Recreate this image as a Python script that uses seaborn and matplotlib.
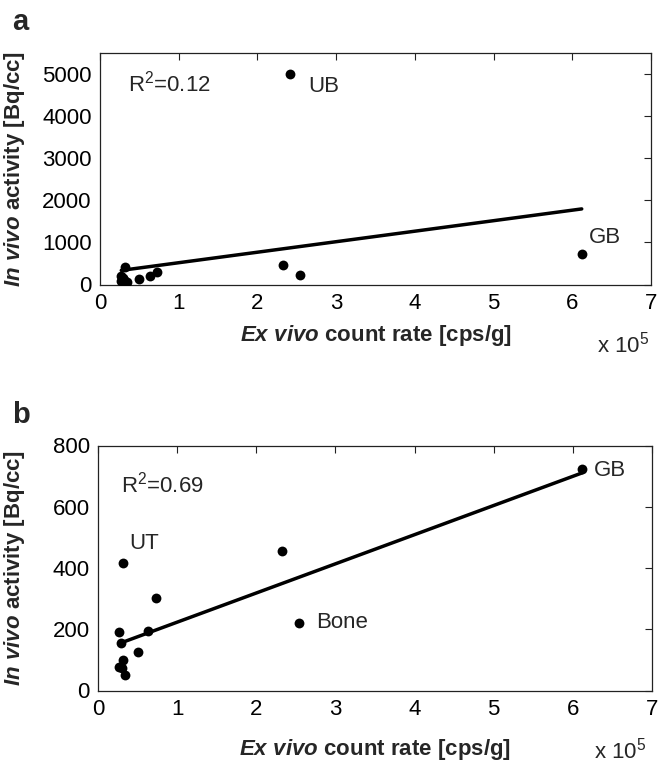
import matplotlib
matplotlib.use("Agg")
import matplotlib.pyplot as plt
import numpy as np
import pandas as pd
import seaborn as sns

# ---- data (x in units of 1e5 cps/g, y in Bq/cc) ----
ex_vivo_b = [0.32, 0.73, 0.27, 0.63, 0.29, 0.50, 0.31, 0.27, 0.30, 0.34, 2.33, 2.54, 6.12]
in_vivo_b = [415, 303, 191, 194, 155, 126, 101, 76, 72, 51, 457, 221, 724]
organs_b = ["UT", "", "", "", "", "", "", "", "", "", "", "Bone", "GB"]
ub_x = [2.42]
ub_y = [5000]
ex_vivo_a = ex_vivo_b + ub_x
in_vivo_a = in_vivo_b + ub_y
organs_a = ["", "", "", "", "", "", "", "", "", "", "", "", "GB", "UB"]
r2_a = "R$^{2}$=0.12"
r2_b = "R$^{2}$=0.69"
x_ticks = [0, 1, 2, 3, 4, 5, 6, 7]
y_ticks_a = [0, 1000, 2000, 3000, 4000, 5000]
y_ticks_b = [0, 200, 400, 600, 800]

sns.set_style("white")
plt.rcParams["font.family"] = ["Liberation Sans", "DejaVu Sans"]
plt.rcParams["mathtext.fontset"] = "custom"
plt.rcParams["mathtext.rm"] = "Liberation Sans"
plt.rcParams["mathtext.it"] = "Liberation Sans:italic:bold"
plt.rcParams["mathtext.bf"] = "Liberation Sans:bold"

FS = 16
W, H = 658, 766
fig = plt.figure(figsize=(W / 100, H / 100), dpi=100)

def box(l, r, t, b):
    return [l / W, 1 - b / H, (r - l) / W, (b - t) / H]

ax_a = fig.add_axes(box(100, 651, 53, 284.5))
ax_b = fig.add_axes(box(98, 652, 445.5, 690.5))

df_a = pd.DataFrame({"x": ex_vivo_a, "y": in_vivo_a, "organ": organs_a})
df_b = pd.DataFrame({"x": ex_vivo_b, "y": in_vivo_b, "organ": organs_b})

specs = [
    (ax_a, df_a, (0, 5500), y_ticks_a, r2_a, (0.05, 0.868),
     {"UB": (18, -12), "GB": (7, 17)}, -0.132, -0.165, -2),
    (ax_b, df_b, (0, 800), y_ticks_b, r2_b, (0.041, 0.839),
     {"UT": (6, 20), "Bone": (17, 0), "GB": (12, -2)}, -0.128, -0.19, -6),
]

for ax, df, ylim, yt, r2, r2pos, offs, ylab_x, xlab_y, xoff in specs:
    sns.regplot(data=df, x="x", y="y", ax=ax, ci=None, truncate=True,
                scatter_kws=dict(s=50, color="black", alpha=1, linewidths=0, zorder=3),
                line_kws=dict(color="black", lw=2.5, zorder=4))
    ax.set_xlim(0, 7)
    ax.set_ylim(*ylim)
    ax.set_xticks(x_ticks)
    ax.set_yticks(yt)
    ax.tick_params(direction="in", top=True, right=True, length=5, width=0.8,
                   labelsize=FS, pad=6, colors="#222222", labelcolor="black")
    for s in ax.spines.values():
        s.set_visible(True)
        s.set_linewidth(0.9)
        s.set_color("#222222")
    ax.set_xlabel(r"$\mathit{Ex\ vivo}$ count rate [cps/g]", fontsize=FS, fontweight="bold")
    ax.set_ylabel(r"$\mathit{In\ vivo}$ activity [Bq/cc]", fontsize=FS, fontweight="bold")
    ax.yaxis.set_label_coords(ylab_x, 0.5)
    ax.xaxis.set_label_coords(0.5, xlab_y)
    ax.text(r2pos[0], r2pos[1], r2, transform=ax.transAxes, fontsize=FS,
            ha="left", va="center")
    for _, row in df.iterrows():
        if row["organ"] in offs:
            ax.annotate(row["organ"], xy=(row["x"], row["y"]),
                        xytext=offs[row["organ"]], textcoords="offset pixels",
                        ha="left", va="center", fontsize=FS)
    ax.annotate("x 10$^{5}$", xy=(1, 0), xycoords="axes fraction",
                xytext=(xoff, -47), textcoords="offset pixels",
                ha="right", va="top", fontsize=FS)

fig.text(12 / W, 1 - 30 / H, "a", fontsize=21, fontweight="bold", va="baseline")
fig.text(12 / W, 1 - 423 / H, "b", fontsize=21, fontweight="bold", va="baseline")

fig.savefig("out.png", dpi=100)
